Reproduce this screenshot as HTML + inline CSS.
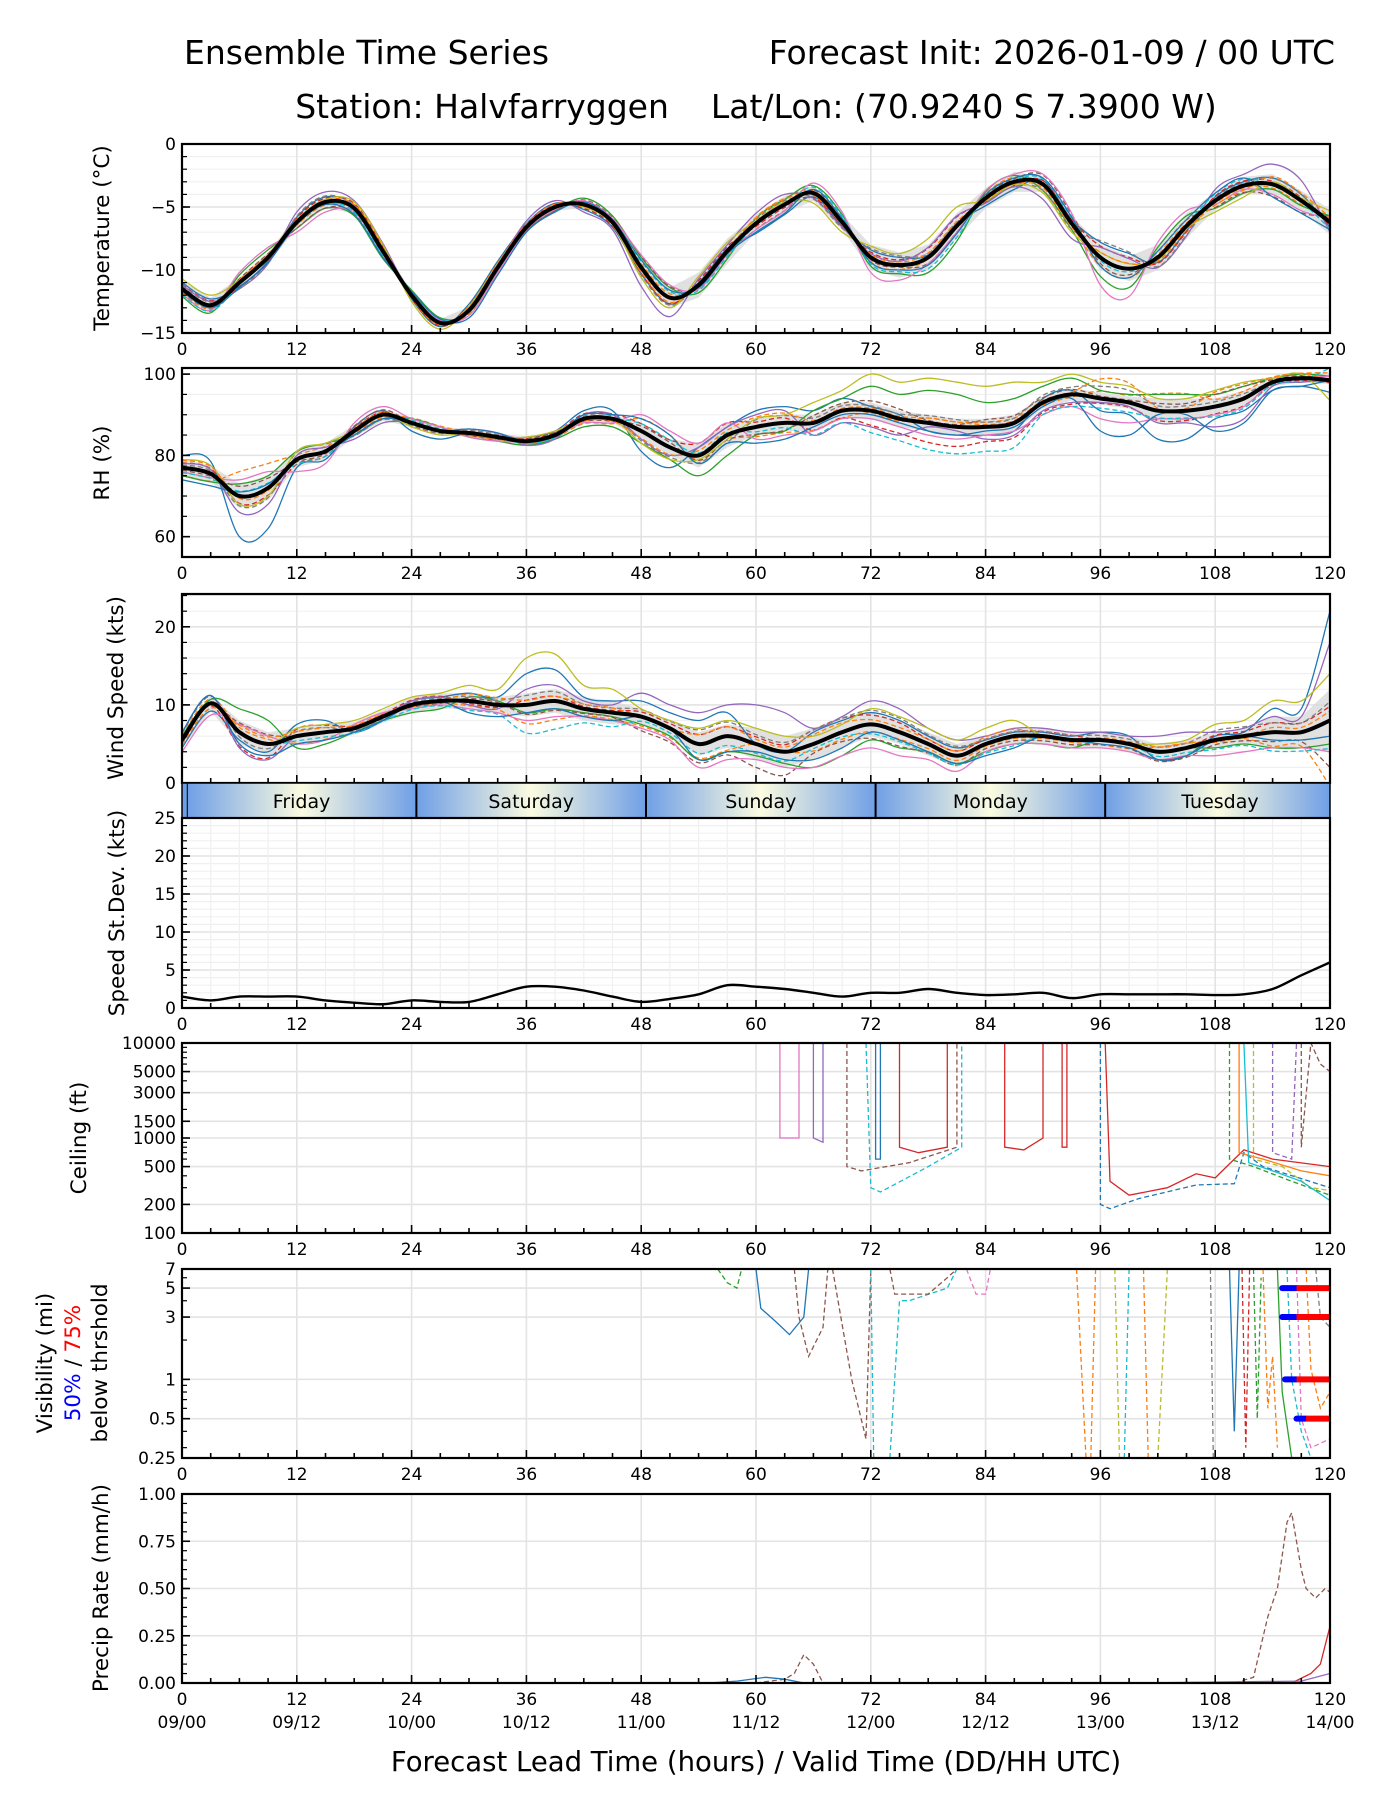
<!DOCTYPE html>
<html><head><meta charset="utf-8"><style>
html,body{margin:0;padding:0;background:#fff;}
svg{display:block;font-family:"DejaVu Sans","Liberation Sans",sans-serif;}
</style></head><body>
<svg id="chart" width="1400" height="1800" viewBox="0 0 1400 1800" xmlns="http://www.w3.org/2000/svg">
<defs>
<linearGradient id="dayg" x1="0" x2="1" y1="0" y2="0">
<stop offset="0" stop-color="#6f9fe6"/><stop offset="0.5" stop-color="#fbfbe0"/><stop offset="1" stop-color="#6f9fe6"/>
</linearGradient>
</defs>
<text x="184" y="64" font-size="33">Ensemble Time Series</text>
<text x="1335" y="64" font-size="33" text-anchor="end">Forecast Init: 2026-01-09 / 00 UTC</text>
<text x="756" y="118" font-size="33" text-anchor="middle" xml:space="preserve">Station: Halvfarryggen    Lat/Lon: (70.9240 S 7.3900 W)</text>
<text x="756" y="1771" font-size="27.5" text-anchor="middle">Forecast Lead Time (hours) / Valid Time (DD/HH UTC)</text>
<g id="root"></g>
</svg>
<script>
// ---- data (3-hourly means, 0..120 h) ----
const hours3 = [0,3,6,9,12,15,18,21,24,27,30,33,36,39,42,45,48,51,54,57,60,63,66,69,72,75,78,81,84,87,90,93,96,99,102,105,108,111,114,117,120];
const hours6 = [0,6,12,18,24,30,36,42,48,54,60,66,72,78,84,90,96,102,108,114,120];
const tempMean = [-11.5,-12.8,-11,-9,-6.2,-4.6,-5.1,-8.5,-12,-14.2,-13.2,-9.8,-6.6,-5,-4.8,-6.2,-9.8,-12.2,-11.2,-8.5,-6.3,-4.8,-3.9,-6.2,-9,-9.6,-9,-6.5,-4.3,-3,-3.2,-6.3,-9,-9.9,-9,-6.5,-4.5,-3.3,-3.2,-4.5,-6.2];
const rhMean = [77,75.5,70,72,79,81,86,90,88,86,85.5,84.5,83.5,85,89,89,86,82,80,85,87,88,88,91,91,89,88,87,87,88,93,95,94,93,91,91,92,94,98,99,98.5];
const windMean = [5.5,10.2,6.5,5,6,6.5,7,8.5,10,10.5,10.5,10,10,10.5,9.5,9,8.5,7,5,6,5,4,5,6.5,7.5,6.5,5,3.5,5,6,6,5.5,5.5,5,4,4.5,5.5,6,6.5,6.5,8];
const sdMean = [1.5,1,1.5,1.5,1.5,1,0.7,0.5,1,0.8,0.8,1.8,2.8,2.8,2.3,1.5,0.8,1.2,1.8,3,2.8,2.5,2,1.5,2,2,2.5,2,1.7,1.8,2,1.3,1.8,1.8,1.8,1.8,1.7,1.8,2.5,4.3,6];
// spread half-widths (6-hourly)
const tempSpread = [0.6,0.4,0.5,0.4,0.3,0.3,0.3,0.3,0.8,1,0.7,0.6,1,1,0.8,0.6,1,1,0.7,0.8,1];
const rhSpread = [2,3,2,1.5,1,1,1,1,2,3,2,2,2,2,2,1.5,1.5,3,2,1,1];
const windSpread = [1,1.5,1,0.8,1,1,1.5,1.5,1,1.5,2,2,1.5,1.5,1,1,1,1,1,2,4];
// member deltas (6-hourly)
const tempMembers = [
 [0.5,-0.3,0.4,0.2,-0.3,0.5,0.3,-0.4,-0.5,0.2,-0.8,-0.3,0.6,0.2,-0.6,0.3,1.2,-0.4,0.3,0.5,-0.4],
 [-0.6,0.6,-0.5,-0.6,0.4,-0.2,-0.3,0.5,0.8,-0.6,0.4,0.6,-0.7,-1.2,0.5,-0.5,-1.5,0.8,-0.6,-0.4,0.5],
 [0.3,-0.5,0.8,0.6,-0.1,0.2,0.5,-0.6,-1.5,0.5,0.8,-0.4,0.3,0.8,-0.4,-1.2,0.8,-0.8,0.9,1.6,-0.8],
 [-0.4,0.8,-0.8,-0.3,0.2,-0.4,-0.2,0.3,1,-0.3,-0.5,0.8,-1.2,-0.5,0.6,0.8,-2.2,1.2,-0.3,-0.8,0.3],
 [0.8,0.2,0.2,0.5,-0.5,0.3,0.1,-0.2,-0.8,0.7,0.2,-0.8,0.9,1.5,-0.2,-0.7,0.4,-0.2,-0.9,0.2,0.9],
 [-0.2,-0.4,-0.2,-0.5,0.3,-0.6,-0.4,0.2,0.6,-0.2,-0.7,0.3,-0.4,-0.6,0.3,0.5,-0.7,0.5,0.6,-1,-0.6]
];
const rhMembers = [
 [3,-10,-2,1,-2,0,1,2,-5,2,4,3,1,-2,-2,1,-3,-7,-3,-2,-3],
 [-2,3,2,-1,1,-1,-1,-2,-3,-5,-2,3,6,8,6,4,2,4,3,1,1],
 [1,-4,1,-2,0,1,-1,1,-2,2,3,-3,-4,-1,-3,-2,-1,-3,-5,-1,0],
 [-1,4,-3,2,1,-1,0,-1,4,3,-3,-2,-2,-3,-2,-3,-5,-2,-2,0,1],
 [2,-2,2,0,-1,0,1,0,-3,-1,2,5,9,11,10,5,4,3,4,1,-5],
 [-3,1,0,-1,0,1,0,1,3,-2,-4,-1,-1,-2,-1,-1,-8,-1,-6,-2,0]
];
const windMembers = [
 [-1,-1,1.5,-0.5,0.5,1,4,1.5,2,3,0,1.5,1.5,1,0.5,0.5,1,-1,0.5,3,14],
 [0.5,3,-1.5,-0.5,-1,0.5,-1,-0.5,-1,-2,-1.5,-3,-2,-1,-1,-1,0,0,-1,-2,-3],
 [1,-2,0,0,0.5,-0.5,2,1,3,4,5,2,3,2,1,1,1,2,1,2,10],
 [-1.5,1,-1,0.5,-0.5,-1,-2,-1,-1.5,-3,-2,-3,-3,-2,-1,-1,-1,-1,-2,-2,-4],
 [0,0,1,1,1,2,6,3,1,2,2,1,2,2,2,0,0,1,2,4,6],
 [1,-1.5,-1,-0.5,0,-1.5,-1,-1,0,-2,-1,-2,-1,-1,-1.5,0,-0.5,-1,0,-1,-2]
];
const memberColors = ['#1f77b4','#ff7f0e','#2ca02c','#d62728','#9467bd','#8c564b','#e377c2','#7f7f7f','#bcbd22','#17becf'];
// ceiling members: [hour, ft] pairs
const ceilMembers = [
 [[62.5,10000],[62.5,1000],[64.5,1000],[64.5,10000]],
 [[66,10000],[66,1000],[67,900],[67,10000]],
 [[69.5,10000],[69.5,500],[71,450],[76,550],[81,800],[81,10000]],
 [[72.5,10000],[72.5,600],[73,600],[73,10000]],
 [[71.5,10000],[72,300],[73,270],[78,500],[81.5,800],[81.5,10000]],
 [[75,10000],[75,800],[77,700],[80,800],[80,10000]],
 [[86,10000],[86,800],[88,750],[90,1000],[90,10000]],
 [[92,10000],[92,800],[92.5,800],[92.5,10000]],
 [[96,10000],[96,200],[97,180],[100,230],[106,320],[110,330],[111,700],[113,500],[120,300]],
 [[96.5,10000],[97,350],[99,250],[103,300],[106,420],[108,380],[110,600],[111,750],[114,600],[120,500]],
 [[109.5,10000],[109.5,600],[112,500],[116,350],[120,250]],
 [[110.5,10000],[110.5,700],[113,600],[117,450],[120,400]],
 [[112,10000],[112,600],[115,500],[118,300],[120,280]],
 [[114,10000],[114,700],[116,600],[116.5,10000]],
 [[117,10000],[117,800],[118,10000],[119,6000],[120,5000]],
 [[111,10000],[111.5,550],[114,450],[117,350],[120,220]]
];
const ceilStyles = [6,4,5,0,9,3,3,3,0,3,2,1,8,4,5,9];
const ceilDash = [0,0,1,0,1,0,0,0,1,0,1,0,1,1,1,0];
const visMembers = [
 [[60,7],[60.5,3.5],[62,2.8],[63.5,2.2],[65,3],[65.5,7]],
 [[64,7],[64.5,3],[65.5,1.5],[67,2.5],[67.5,7]],
 [[56,7],[57,5.5],[58,5],[58.5,7]],
 [[68,7],[70,1],[71.5,0.35],[72,7]],
 [[72,7],[72.3,0.25]],
 [[74,0.25],[75,4],[76,4],[80,5],[81,7]],
 [[74,7],[74.5,4.5],[78,4.5],[80,6],[81,7]],
 [[82,7],[83,4.5],[84,4.5],[84.5,7]],
 [[93.5,7],[94.5,0.25]],[[95,0.25],[95.5,7]],[[97.5,7],[98,0.25]],[[98.5,0.25],[99,7]],
 [[100.5,7],[101,0.25]],[[102,0.25],[103,7]],[[107.5,7],[107.8,0.25]],
 [[109.5,7],[110,0.4],[110.5,7]],[[110.8,7],[111.2,0.3],[111.6,7]],[[112,7],[112.4,0.5],[112.8,6]],
 [[113,7],[113.5,0.6],[114,1.5],[114.5,0.3]],[[114.5,7],[115,0.8],[116,0.25]],[[115.5,7],[116,1],[117,0.4],[118,0.25]],
 [[116.5,7],[117,0.5],[118,0.3],[120,0.35]],[[117.5,7],[118,1.2],[119,0.6],[120,0.8]],[[118.5,7],[119,3],[120,2.5]]
];
const visColorIdx = [0,5,2,5,9,9,5,6,1,1,8,9,1,8,7,0,3,2,1,2,9,6,1,7];
const visDash = [0,1,1,1,1,1,1,1,1,1,1,1,1,1,1,0,1,1,1,0,1,1,1,1];
const visThresh = [5,3,1,0.5];
const visBlueStart = [115,115,115.3,116.5];
const visRedStart = [116.5,116.5,116.5,117.5];
const precipMembers = [
 [[100,0],[110,0],[112,0.03],[113.5,0.35],[114.5,0.5],[115.5,0.85],[116,0.9],[117,0.6],[117.5,0.5],[118.5,0.45],[119.5,0.5],[120,0.48]],
 [[100,0],[116,0],[118,0.05],[119,0.1],[120,0.3]],
 [[60,0],[63,0.02],[64,0.05],[65,0.15],[66,0.1],[67,0],[80,0]],
 [[55,0],[58,0.01],[61,0.03],[63,0.02],[65,0],[90,0]],
 [[100,0],[117,0.01],[120,0.05]]
];
const precipColorIdx = [5,3,5,0,4];
const precipDash = [1,0,1,0,0];
const xTicks = [0,12,24,36,48,60,72,84,96,108,120];
const dateLabels = ['09/00','09/12','10/00','10/12','11/00','11/12','12/00','12/12','13/00','13/12','14/00'];
const dayNames = ['Friday','Saturday','Sunday','Monday','Tuesday'];

// ---- layout ----
const X0=182, X1=1330;
const xs = h => X0 + h*(X1-X0)/120;
const root = document.getElementById('root');
const NS='http://www.w3.org/2000/svg';
function mk(tag, attrs, parent){const e=document.createElementNS(NS,tag);for(const k in attrs)e.setAttribute(k,attrs[k]);(parent||root).appendChild(e);return e;}

function panel(name, top, bot, ymin, ymax, log, yTicks, yTickLabels, minorY, minorGrid){
  const g = mk('g',{});
  
  
  const ys = v => log ? bot - (Math.log(v)-Math.log(ymin))/(Math.log(ymax)-Math.log(ymin))*(bot-top) : bot - (v-ymin)/(ymax-ymin)*(bot-top);
  const cp = 'clip-'+name;
  const c = mk('clipPath',{id:cp},g); mk('rect',{x:X0,y:top,width:X1-X0,height:bot-top},c);
  minorGrid.forEach(v=>{const y=ys(v); mk('line',{x1:X0,x2:X1,y1:y,y2:y,stroke:'#f0f0f0','stroke-width':1.2},g);});
  for(let h=0;h<=120;h+=12){mk('line',{x1:xs(h),x2:xs(h),y1:top,y2:bot,stroke:'#e3e3e3','stroke-width':1.6},g);}
  yTicks.forEach(v=>{const y=ys(v); mk('line',{x1:X0,x2:X1,y1:y,y2:y,stroke:'#e3e3e3','stroke-width':1.6},g);});
  const data = mk('g',{'clip-path':'url(#'+cp+')'},g);
  for(let h=0;h<=120;h+=3){const L=(h%12===0)?8:5; mk('line',{x1:xs(h),x2:xs(h),y1:bot,y2:bot-L,stroke:'#000','stroke-width':1.6},g);}
  yTicks.forEach((v,i)=>{const y=ys(v); mk('line',{x1:X0,x2:X0+8,y1:y,y2:y,stroke:'#000','stroke-width':1.6},g);
    const t=mk('text',{x:X0-6,y:y+6,'font-size':17,'text-anchor':'end'},g); t.textContent=yTickLabels[i];
    
    });
  minorY.forEach(v=>{const y=ys(v); mk('line',{x1:X0,x2:X0+5,y1:y,y2:y,stroke:'#000','stroke-width':1.2},g);});
  return {g, data, ys, top, bot};
}
function frame(p){mk('rect',{x:X0,y:p.top,width:X1-X0,height:p.bot-p.top,fill:'none',stroke:'#000','stroke-width':2.2},p.g);}
function xLabels(bot, withDates){
  xTicks.forEach((h,i)=>{const t=mk('text',{x:xs(h),y:bot+22,'font-size':17,'text-anchor':'middle'}); t.textContent=h;
    
    
    if(withDates){const d=mk('text',{x:xs(h),y:bot+45,'font-size':17,'text-anchor':'middle'}); d.textContent=dateLabels[i];
      
      }
  });
}
function ylab(lines, x, cy){
  const t=mk('text',{transform:`translate(${x},${cy}) rotate(-90)`,'font-size':21.5,'text-anchor':'middle'});
  t.textContent=lines;
  
  
  return t;
}
function pathFrom(pts){return 'M'+pts.map(p=>p[0].toFixed(1)+','+p[1].toFixed(1)).join('L');}
function smoothFrom(pts){
  let d='M'+pts[0][0].toFixed(1)+','+pts[0][1].toFixed(1);
  for(let i=0;i<pts.length-1;i++){
    const p0=pts[Math.max(0,i-1)],p1=pts[i],p2=pts[i+1],p3=pts[Math.min(pts.length-1,i+2)];
    const c1=[p1[0]+(p2[0]-p0[0])/6,p1[1]+(p2[1]-p0[1])/6], c2=[p2[0]-(p3[0]-p1[0])/6,p2[1]-(p3[1]-p1[1])/6];
    d+='C'+c1[0].toFixed(1)+','+c1[1].toFixed(1)+' '+c2[0].toFixed(1)+','+c2[1].toFixed(1)+' '+p2[0].toFixed(1)+','+p2[1].toFixed(1);
  }
  return d;
}
function ensemble(p, name, mean, spread, members){
  const up = hours3.map((h,i)=>[xs(h), p.ys(mean[i]+spread[Math.floor(i/2)])]);
  const dn = hours3.map((h,i)=>[xs(h), p.ys(mean[i]-spread[Math.floor(i/2)])]).reverse();
  const band = mk('path',{d:pathFrom(up.concat(dn))+'Z',fill:'#d9d9d9',opacity:0.8},p.data);
  
  
  members.forEach((m,k)=>{
    [0,1].forEach(sh=>{
      const pts = hours3.map((h,i)=>[xs(h), p.ys(mean[i]+m[Math.floor(i/2)]*(sh?-0.6:1))]);
      const e = mk('path',{d:smoothFrom(pts),fill:'none',stroke:memberColors[(k*2+sh)%10],'stroke-width':1.3,'stroke-dasharray':sh?'5,3':'none'},p.data);
      
      
    });
  });
  const mpts = hours3.map((h,i)=>[xs(h), p.ys(mean[i])]);
  const ml = mk('path',{d:smoothFrom(mpts),fill:'none',stroke:'#000','stroke-width':4,'stroke-linejoin':'round'},p.data);
  
  
}
function members(p, name, list, colIdx, dash){
  list.forEach((m,k)=>{
    const e = mk('path',{d:pathFrom(m.map(q=>[xs(q[0]),p.ys(q[1])])),fill:'none',stroke:memberColors[colIdx[k]%10],'stroke-width':1.3,'stroke-dasharray':dash[k]?'5,3':'none'},p.data);
    
    
  });
}
function range(a,b,s){const r=[];for(let v=a;v<=b+1e-9;v+=s)r.push(+v.toFixed(3));return r;}

// Temperature
const pT = panel('temperature',144,333,-15,0,false,[0,-5,-10,-15],['0','\u22125','\u221210','\u221215'],range(-15,0,1),range(-14,-1,1));
ensemble(pT,'temperature',tempMean,tempSpread,tempMembers); frame(pT); xLabels(333,false);
ylab('Temperature (°C)',109,238);
// RH
const pR = panel('rh',368,557,55,101.5,false,[60,80,100],['60','80','100'],range(55,100,5),range(55,100,5));
ensemble(pR,'rh',rhMean,rhSpread,rhMembers); frame(pR); xLabels(557,false);
ylab('RH (%)',109,463);
// Wind
const pW = panel('wind',594,783,0,24.2,false,[0,10,20],['0','10','20'],range(0,24,2),range(2,24,2));
ensemble(pW,'wind',windMean,windSpread,windMembers); frame(pW);
ylab('Wind Speed (kts)',123,688);
// Day bar
for(let d=0; d<5; d++){
  const a=xs(d*24+0.5), b=Math.min(xs(d*24+24.5),X1);
  const r=mk('rect',{x:a,y:783,width:b-a,height:35,fill:'url(#dayg)'});
  
  
  mk('line',{x1:a,x2:a,y1:783,y2:818,stroke:'#000','stroke-width':2});
  const t=mk('text',{x:xs(d*24+12.5),y:808,'font-size':19,'text-anchor':'middle'}); t.textContent=dayNames[d];
  
  
}
mk('rect',{x:X0,y:783,width:xs(0.5)-X0,height:35,fill:'#6f9fe6'});
mk('rect',{x:X0,y:783,width:X1-X0,height:35,fill:'none',stroke:'#000','stroke-width':1.5});
// Stdev
const pS = panel('stdev',818,1008,0,25,false,[0,5,10,15,20,25],['0','5','10','15','20','25'],range(0,25,1),range(1,24,1));
for(let h=3;h<120;h+=3){ if(h%12) mk('line',{x1:xs(h),x2:xs(h),y1:818,y2:1008,stroke:'#f0f0f0','stroke-width':1.2},pS.data); }
const sl=mk('path',{d:smoothFrom(hours3.map((h,i)=>[xs(h),pS.ys(sdMean[i])])),fill:'none',stroke:'#000','stroke-width':2.4},pS.data);


frame(pS); xLabels(1008,false);
ylab('Speed St.Dev. (kts)',124,913);
// Ceiling
const pC = panel('ceiling',1043,1233,100,10000,true,[100,200,500,1000,1500,3000,5000,10000],['100','200','500','1000','1500','3000','5000','10000'],[300,400,600,700,800,900,2000,4000,6000,7000,8000,9000],[]);
members(pC,'ceiling',ceilMembers,ceilStyles,ceilDash); frame(pC); xLabels(1233,false);
ylab('Ceiling (ft)',86,1138);
// Visibility
const pV = panel('visibility',1269,1458,0.25,7,true,[0.25,0.5,1,3,5,7],['0.25','0.5','1','3','5','7'],[0.3,0.4,0.6,0.7,0.8,0.9,2,4,6],[]);
members(pV,'visibility',visMembers,visColorIdx,visDash);
visThresh.forEach((v,i)=>{const y=pV.ys(v);
  const b=mk('line',{x1:xs(visBlueStart[i]),x2:xs(visRedStart[i]),y1:y,y2:y,stroke:'#0000ff','stroke-width':6,'stroke-linecap':'round'},pV.data);
  
  
  const r=mk('line',{x1:xs(visRedStart[i]),x2:X1,y1:y,y2:y,stroke:'#ff0000','stroke-width':6},pV.data);
  
  
});
frame(pV); xLabels(1458,false);
(function(){const cx=[52,80,107], cy=1363;
 const t1=mk('text',{transform:`translate(${cx[0]},${cy}) rotate(-90)`,'font-size':21.5,'text-anchor':'middle'});t1.textContent='Visibility (mi)';
 
 
 const t2=mk('text',{transform:`translate(${cx[1]},${cy}) rotate(-90)`,'font-size':21.5,'text-anchor':'middle'});
 
 
 const s1=mk('tspan',{fill:'#0000ff'},t2);s1.textContent='50%';const s2=mk('tspan',{},t2);s2.textContent=' / ';const s3=mk('tspan',{fill:'#ff0000'},t2);s3.textContent='75%';
 const t3=mk('text',{transform:`translate(${cx[2]},${cy}) rotate(-90)`,'font-size':21.5,'text-anchor':'middle'});t3.textContent='below thrshold';
 
 
})();
// Precip
const pP = panel('precip',1494,1683,0,1,false,[0,0.25,0.5,0.75,1],['0.00','0.25','0.50','0.75','1.00'],range(0,1,0.05),[]);
members(pP,'precip',precipMembers,precipColorIdx,precipDash); frame(pP); xLabels(1683,true);
ylab('Precip Rate (mm/h)',108,1588);
</script>
</body></html>
